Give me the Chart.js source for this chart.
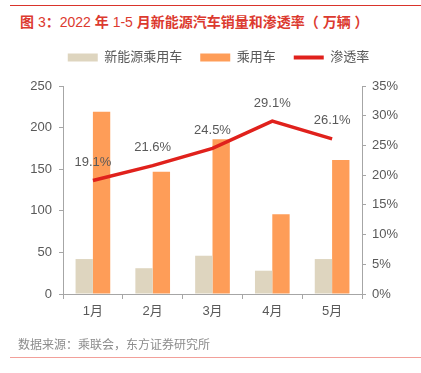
<!DOCTYPE html>
<html>
<head>
<meta charset="utf-8">
<script src="https://cdn.jsdelivr.net/npm/chart.js@4/dist/chart.umd.min.js"></script>
<style>
  body { margin: 0; background: #fff; }
  #wrap { position: relative; width: 421px; height: 373px; overflow: hidden; font-family: "Liberation Sans", "Noto Sans CJK SC", sans-serif; }
  .rule-top { position: absolute; left: 10px; top: 5px; width: 411px; height: 1px; background: #d9342b; }
  .title { position: absolute; left: 20px; top: 11px; font-size: 14px; font-weight: bold; color: #dc3a2f; white-space: nowrap; }
  .title .num { font-weight: normal; }
  .chart-box { position: absolute; left: 0; top: 30px; width: 421px; height: 306px; }
  .source { position: absolute; left: 18px; top: 335px; font-size: 12px; color: #8c8c8c; white-space: nowrap; }
  .rule-bottom { position: absolute; left: 10px; top: 357px; width: 411px; height: 1px; background: #f2a09a; }
</style>
</head>
<body>
<div id="wrap">
  <div class="rule-top"></div>
  <div class="title">图 <span class="num">3</span>：<span class="num">2022</span> 年 <span class="num">1-5</span> 月新能源汽车销量和渗透率（<span class="num"> </span>万辆<span class="num"> </span>）</div>
  <div class="chart-box"><canvas id="chart"></canvas></div>
  <div class="source">数据来源：乘联会，东方证券研究所</div>
  <div class="rule-bottom"></div>
</div>
<script>
const months = ['1月', '2月', '3月', '4月', '5月'];
const nevSales = [42, 31, 46, 28, 42];
const passengerSales = [219, 147, 186, 96, 161];
const penetration = [19.1, 21.6, 24.5, 29.1, 26.1];

const textGrey = '#595959';
const axisGrey = '#a6a6a6';
const tickFont = { family: '"Liberation Sans", "Noto Sans CJK SC", sans-serif', size: 13 };

// draws the % labels above the line points
const lineLabels = {
  id: 'lineLabels',
  afterDatasetsDraw(chart) {
    const ctx = chart.ctx;
    const meta = chart.getDatasetMeta(2);
    ctx.save();
    ctx.font = '13px "Liberation Sans", sans-serif';
    ctx.fillStyle = textGrey;
    ctx.textAlign = 'center';
    ctx.textBaseline = 'middle';
    meta.data.forEach((pt, i) => {
      ctx.fillText(penetration[i].toFixed(1) + '%', pt.x, pt.y - 18);
    });
    ctx.restore();
  }
};

// extra room under the legend
const legendGap = {
  id: 'legendGap',
  beforeInit(chart) {
    const fit = chart.legend.fit;
    chart.legend.fit = function () {
      fit.call(this);
      this.height += 12;
    };
  }
};

new Chart(document.getElementById('chart'), {
  data: {
    labels: months,
    datasets: [
      {
        type: 'bar',
        label: '新能源乘用车',
        data: nevSales,
        backgroundColor: '#ded5bf',
        yAxisID: 'y',
        order: 1,
        categoryPercentage: 0.58,
        barPercentage: 1.0,
      },
      {
        type: 'bar',
        label: '乘用车',
        data: passengerSales,
        backgroundColor: '#fe9d58',
        yAxisID: 'y',
        order: 1,
        categoryPercentage: 0.58,
        barPercentage: 1.0,
      },
      {
        type: 'line',
        label: '渗透率',
        data: penetration,
        borderColor: '#e0211c',
        backgroundColor: '#e0211c',
        borderWidth: 3.5,
        pointRadius: 0,
        tension: 0,
        yAxisID: 'y1',
        order: 0,
      },
    ],
  },
  options: {
    responsive: true,
    maintainAspectRatio: false,
    animation: false,
    layout: { padding: { top: 3, left: 16, right: 0, bottom: 0 } },
    plugins: {
      tooltip: { enabled: false },
      legend: {
        position: 'top',
        labels: {
          color: textGrey,
          font: tickFont,
          usePointStyle: true,
          pointStyleWidth: 30,
          boxHeight: 8,
          padding: 18,
          sort: (a, b) => a.datasetIndex - b.datasetIndex,
          generateLabels: chart => Chart.defaults.plugins.legend.labels.generateLabels(chart).map(item => {
            if (item.datasetIndex === 2) {
              item.pointStyle = 'line';
              item.lineWidth = 4;
              item.strokeStyle = '#e0211c';
            } else {
              item.pointStyle = 'rect';
              item.lineWidth = 0;
            }
            return item;
          }),
        },
      },
    },
    scales: {
      x: {
        grid: { display: true, drawOnChartArea: false, drawTicks: true, tickLength: 5, color: axisGrey },
        border: { color: axisGrey },
        ticks: { color: textGrey, font: tickFont, padding: 5 },
        afterFit: s => { s.height = 42; },
      },
      y: {
        position: 'left',
        min: 0,
        max: 250,
        ticks: { stepSize: 50, color: textGrey, font: tickFont, padding: 7 },
        grid: { drawOnChartArea: false, tickLength: 4, color: axisGrey },
        border: { color: axisGrey },
        afterFit: s => { s.width = 47; },
      },
      y1: {
        position: 'right',
        min: 0,
        max: 35,
        ticks: { stepSize: 5, color: textGrey, font: tickFont, padding: 6, callback: v => v + '%' },
        grid: { drawOnChartArea: false, tickLength: 4, color: axisGrey },
        border: { color: axisGrey },
        afterFit: s => { s.width = 59; },
      },
    },
  },
  plugins: [lineLabels, legendGap],
});
</script>
</body>
</html>
